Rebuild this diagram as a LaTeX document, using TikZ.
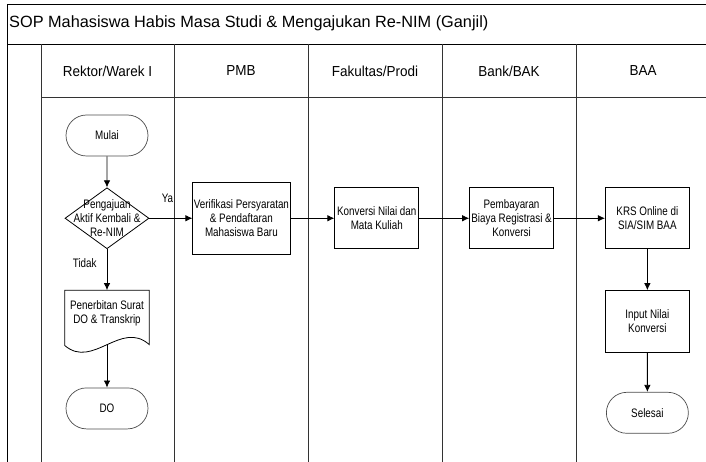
\documentclass[tikz,border=0pt]{standalone}
\usepackage{fontspec}
\setmainfont{Liberation Sans}
\newfontfamily\sempit[FakeStretch=0.8]{Liberation Sans}
\newfontfamily\agaksempit[FakeStretch=0.93]{Liberation Sans}
\usetikzlibrary{positioning}
\usetikzlibrary{arrows.meta}
\usetikzlibrary{shapes.geometric,shapes.misc}
\usetikzlibrary{calc}

\begin{document}
\begin{tikzpicture}[x=1pt,y=-1pt,>={Latex[length=7pt,width=6.5pt]}]
\tikzset{teks/.style={font={\sempit\fontsize{12.3}{14}\selectfont}, align=center, inner sep=1pt}}
\tikzset{proses/.style={teks, rectangle, minimum width=84pt, minimum height=61pt, draw, line width=0.8pt}}
\tikzset{terminal/.style={teks, rounded rectangle, minimum width=84pt, minimum height=41pt, draw=black!70, line width=0.7pt}}
\tikzset{keputusan/.style={diamond, minimum width=84pt, minimum height=61pt, inner sep=0pt, draw, line width=0.8pt}}
\tikzset{garis/.style={->, line width=0.8pt}}
\tikzset{lajur/.style={line width=0.9pt, black!80}}
\tikzset{judulkolom/.style={font={\agaksempit\fontsize{14.5}{17}\selectfont}}}
\useasboundingbox (0,0) rectangle (706,462);

% bingkai dan lajur
\draw[line width=0.9pt] (706,4) -- (7,4) -- (7,462);
\draw[line width=0.9pt] (7,44) -- (706,44);
\draw[lajur] (41,97) -- (706,97);
\foreach \x in {41,174,308,442,576}
  \draw[lajur] (\x,44) -- (\x,462);
\node[anchor=west, inner sep=0pt, font={\fontsize{16.3}{19}\selectfont}] (judul) at (9,23) {SOP Mahasiswa Habis Masa Studi \& Mengajukan Re-NIM (Ganjil)};
\node[judulkolom] (hrektor) at (107.5,71) {Rektor/Warek I};
\node[judulkolom] (hpmb) at (241,71) {PMB};
\node[judulkolom] (hfakultas) at (375,71) {Fakultas/Prodi};
\node[judulkolom] (hbank) at (509,71) {Bank/BAK};
\node[judulkolom] (hbaa) at (643,71) {BAA};

% alur
\node[terminal] (mulai) at (107,135.5) {Mulai};
\node[keputusan, below=31pt of mulai, label={[teks]center:Pengajuan\\Aktif Kembali \&\\Re-NIM}] (ajuan) {};
\node[teks, rectangle, minimum width=84pt, minimum height=46pt, below=41pt of ajuan] (surat) {Penerbitan Surat\\DO \& Transkrip};
\draw[line width=0.8pt] (surat.north west) -- (surat.north east) -- ($(surat.south east)+(0,8)$)
  .. controls ($(surat.south east)+(-28,-17)$) and ($(surat.south west)+(28,33)$) .. ($(surat.south west)+(0,9)$) -- cycle;
\coordinate (suratbawah) at ($(surat.south)+(0,8)$);
\node[terminal, below=51pt of surat] (do) {DO};
\node[proses, minimum width=97pt, minimum height=72pt, right=43pt of ajuan] (verifikasi) {Verifikasi Persyaratan\\\& Pendaftaran\\Mahasiswa Baru};
\node[proses, right=44pt of verifikasi] (konversi) {Konversi Nilai dan\\Mata Kuliah};
\node[proses, right=50pt of konversi] (bayar) {Pembayaran\\Biaya Registrasi \&\\Konversi};
\node[proses, right=51pt of bayar] (krs) {KRS Online di\\SIA/SIM BAA};
\node[proses, minimum height=62pt, below=41pt of krs] (input) {Input Nilai\\Konversi};
\node[terminal, below=39pt of input] (selesai) {Selesai};

\draw[garis] (mulai) -- (ajuan);
\draw[garis] (ajuan.east) -- node[teks, pos=0.42, above=14pt] (ya) {Ya} (verifikasi.west);
\draw[garis] (ajuan.south) -- node[teks, pos=0.33, left=9pt] (tidak) {Tidak} (surat.north);
\draw[garis] (suratbawah) -- (do.north);
\draw[garis] (verifikasi) -- (konversi);
\draw[garis] (konversi) -- (bayar);
\draw[garis] (bayar) -- (krs);
\draw[garis] (krs) -- (input);
\draw[garis] (input) -- (selesai);
\end{tikzpicture}
\end{document}
